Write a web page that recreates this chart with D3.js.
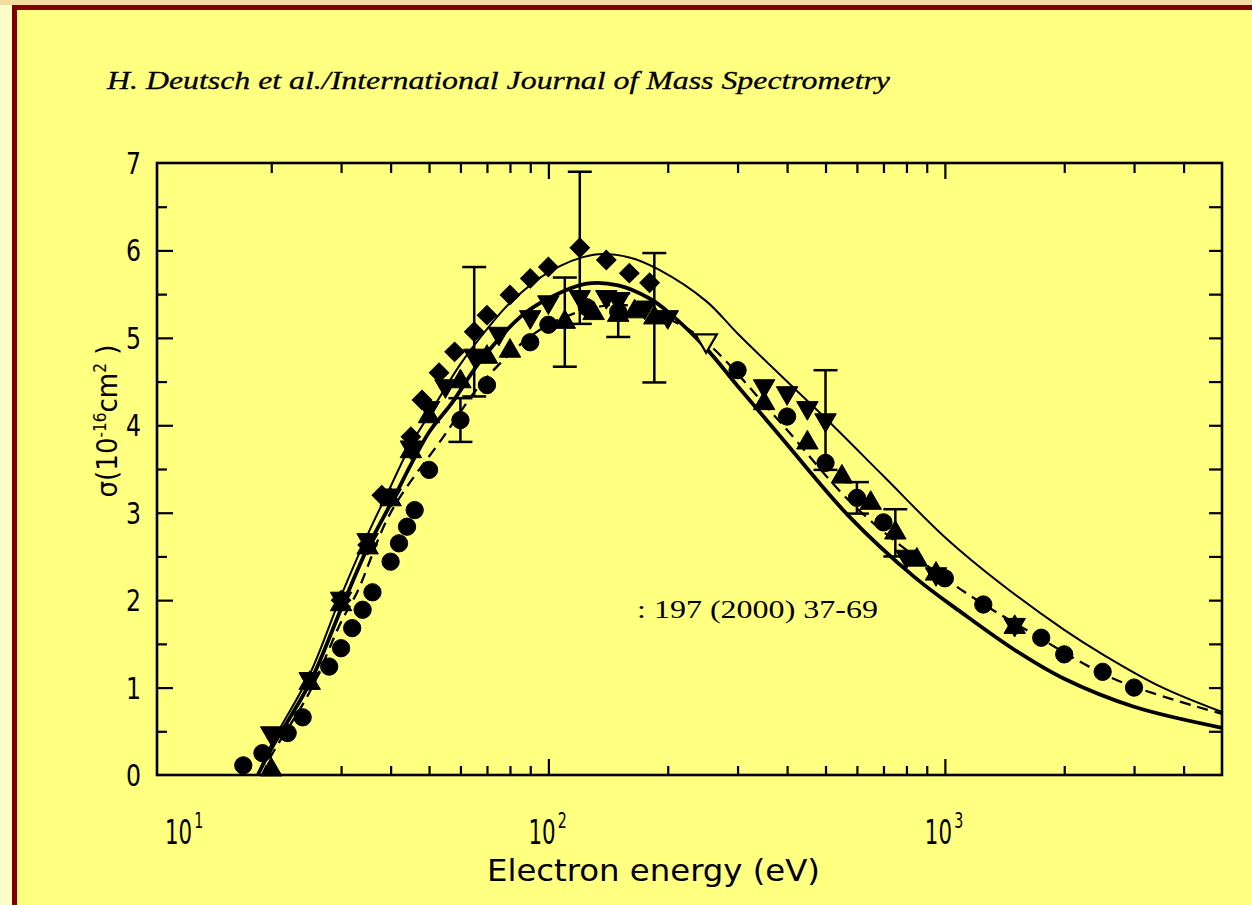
<!DOCTYPE html>
<html>
<head>
<meta charset="utf-8">
<script src="https://cdn.jsdelivr.net/npm/d3@7"></script>
<style>
  html, body { margin: 0; padding: 0; background: #fffdc8; }
  svg { display: block; }
</style>
</head>
<body>
<svg id="chart" width="1252" height="905"></svg>
<script>
// Electron-impact ionization cross section versus electron energy.

// ---- axis ticks ----
const xMajorTicks = [10, 100, 1000];
const xMajorExponents = ["1", "2", "3"];
const xMinorTicks = [20, 30, 40, 50, 60, 70, 80, 90, 200, 300, 400, 500, 600, 700, 800, 900, 2000, 3000, 4000];
const yMajorTicks = [0, 1, 2, 3, 4, 5, 6, 7];
const yMinorTicks = [0.5, 1.5, 2.5, 3.5, 4.5, 5.5, 6.5];

// ---- measured cross sections [energy eV, sigma 1e-16 cm2] ----
const circles = [
  [17, 0.11], [19, 0.25], [22, 0.48], [24, 0.66], [28, 1.24], [30, 1.45], [32, 1.68],
  [34, 1.89], [36, 2.09], [40, 2.44], [42, 2.65], [44, 2.84], [46, 3.03], [50, 3.49],
  [60, 4.06], [70, 4.46], [90, 4.95], [100, 5.15], [125, 5.35], [150, 5.3], [300, 4.63],
  [400, 4.1], [500, 3.57], [600, 3.17], [700, 2.89], [1000, 2.25], [1250, 1.95],
  [1750, 1.57], [2000, 1.38], [2500, 1.18], [3000, 1.0]
];
const diamonds = [
  [30, 2.0], [35, 2.63], [38, 3.2], [45, 3.87], [48, 4.29], [53, 4.6], [58, 4.84],
  [65, 5.07], [70, 5.26], [80, 5.49], [90, 5.68], [100, 5.81], [120, 6.03], [140, 5.89],
  [160, 5.74], [180, 5.63]
];
const upTriangles = [
  [20, 0.06], [25, 1.05], [30, 1.95], [35, 2.6], [40, 3.15], [45, 3.7], [50, 4.1],
  [60, 4.5], [70, 4.78], [80, 4.85], [110, 5.18], [130, 5.28], [150, 5.26], [165, 5.3],
  [185, 5.23], [350, 4.25], [450, 3.8], [550, 3.41], [650, 3.11], [750, 2.77], [850, 2.46],
  [950, 2.3], [1500, 1.69]
];
const downTriangles = [
  [20, 0.48], [25, 1.1], [30, 2.02], [35, 2.69], [40, 3.2], [45, 3.75], [50, 4.2],
  [55, 4.45], [65, 4.8], [75, 5.05], [90, 5.24], [100, 5.41], [120, 5.47], [140, 5.47],
  [150, 5.43], [175, 5.35], [200, 5.24], [350, 4.45], [400, 4.37], [450, 4.2], [500, 4.06],
  [800, 2.5], [950, 2.3], [1500, 1.72]
];
const openDownTriangles = [[250, 4.97]];
// [energy, sigma, half-width of the uncertainty]
const errorBars = [
  [60, 4.06, 0.25], [65, 5.07, 0.74], [110, 5.18, 0.51], [120, 6.03, 0.87],
  [150, 5.26, 0.25], [185, 5.23, 0.74], [500, 4.06, 0.57], [600, 3.17, 0.18], [750, 2.77, 0.27]
];

// ---- calculated cross sections ----
const thinCurve = [
  [18.5, 0], [20, 0.35], [25, 1.15], [30, 2.05], [35, 2.75], [40, 3.3], [45, 3.78], [50, 4.12],
  [60, 4.7], [70, 5.1], [80, 5.4], [100, 5.75], [130, 5.95], [160, 5.92], [190, 5.78],
  [250, 5.42], [300, 5.05], [400, 4.5], [500, 4.08], [700, 3.42], [1000, 2.72], [1400, 2.17],
  [2000, 1.66], [2500, 1.38], [3500, 1.01], [5000, 0.72]
];
const thickCurve = [
  [18.5, 0], [20, 0.3], [25, 1.05], [30, 1.9], [35, 2.6], [40, 3.1], [50, 3.92], [57, 4.25],
  [67, 4.72], [85, 5.24], [100, 5.45], [125, 5.62], [150, 5.6], [180, 5.45], [200, 5.3],
  [250, 4.88], [300, 4.45], [390, 3.84], [570, 2.97], [840, 2.26], [1100, 1.86], [1500, 1.43],
  [2000, 1.1], [3000, 0.78], [5000, 0.54]
];
const dashedCurve = [
  [19, 0], [20, 0.22], [25, 0.95], [30, 1.75], [33, 2.1], [40, 3.0], [54, 3.85], [70, 4.55],
  [100, 5.15], [150, 5.38], [200, 5.22], [250, 4.95], [380, 4.06], [600, 3.05], [1036, 2.2],
  [1660, 1.62], [2700, 1.09], [5000, 0.7]
];

const headerText = "H. Deutsch et al./International Journal of Mass Spectrometry";
const citeText = ": 197 (2000) 37-69";
const xTitle = "Electron energy (eV)";

// ---- layout ----
const svg = d3.select("#chart");
const W = 1252, H = 905;
const sans = "'DejaVu Sans Condensed', 'DejaVu Sans', sans-serif";
const serif = "'Liberation Serif', 'DejaVu Serif', serif";

const x = d3.scaleLog().domain([10.3, 5000]).range([157, 1222]);
const y = d3.scaleLinear().domain([0, 7]).range([775, 163]);

// page background with a dark red rule along the top and left
svg.append("rect").attr("x", 0).attr("y", 0).attr("width", W).attr("height", H).attr("fill", "#fffdc8");
svg.append("rect").attr("x", 0).attr("y", 0).attr("width", W).attr("height", 5).attr("fill", "#f2dca0");
svg.append("rect").attr("x", 12).attr("y", 5).attr("width", W).attr("height", H).attr("fill", "#800000");
svg.append("rect").attr("x", 17).attr("y", 10).attr("width", W).attr("height", H).attr("fill", "#ffff80");

// header line
svg.append("text")
  .attr("x", 107).attr("y", 89)
  .attr("font-family", serif).attr("font-style", "italic")
  .attr("font-size", 26)
  .attr("textLength", 783).attr("lengthAdjust", "spacingAndGlyphs")
  .attr("fill", "#000").attr("stroke", "#000").attr("stroke-width", 0.3)
  .text(headerText);

const [x0, x1] = x.range();
const [y0, y1] = y.range();

// axes: ticks pointing inward, domain lines replaced by a frame
function tickAxis(axis, tf) {
  const g = svg.append("g").attr("transform", tf).call(axis);
  g.select(".domain").remove();
  g.selectAll("line").attr("stroke", "#000").attr("stroke-width", 2.2);
  g.selectAll("text").remove();
  return g;
}
const xMajorInside = xMajorTicks.filter(v => v >= x.domain()[0]);
tickAxis(d3.axisBottom(x).tickValues(xMinorTicks).tickSize(-9), `translate(0,${y0})`);
tickAxis(d3.axisBottom(x).tickValues(xMajorInside).tickSize(-16), `translate(0,${y0})`);
tickAxis(d3.axisTop(x).tickValues(xMinorTicks).tickSize(-10), `translate(0,${y1})`);
tickAxis(d3.axisTop(x).tickValues(xMajorInside).tickSize(-16), `translate(0,${y1})`);
tickAxis(d3.axisLeft(y).tickValues(yMajorTicks.slice(1, -1)).tickSize(-16), `translate(${x0},0)`);
tickAxis(d3.axisLeft(y).tickValues(yMinorTicks).tickSize(-10), `translate(${x0},0)`);
tickAxis(d3.axisRight(y).tickValues(yMajorTicks.slice(1, -1)).tickSize(-13), `translate(${x1},0)`);
tickAxis(d3.axisRight(y).tickValues(yMinorTicks).tickSize(-13), `translate(${x1},0)`);

svg.append("rect")
  .attr("x", x0).attr("y", y1).attr("width", x1 - x0).attr("height", y0 - y1)
  .attr("fill", "none").attr("stroke", "#000").attr("stroke-width", 2.6);

// y tick labels
svg.append("g").selectAll("text").data(yMajorTicks).join("text")
  .attr("x", x0 - 16).attr("y", d => y(d) + 11)
  .attr("text-anchor", "end")
  .attr("font-family", sans).attr("font-size", 31)
  .attr("textLength", 15).attr("lengthAdjust", "spacingAndGlyphs")
  .attr("fill", "#000")
  .text(d => d);

// x tick labels: 10 with a superscript exponent, set in a narrowed face
const labelX = (d, i) => i === 0 ? Math.max(x(d), x0) + 8 : x(d) - 20;
const xl = svg.append("g").selectAll("text").data(xMajorTicks).join("text")
  .attr("transform", (d, i) => `translate(${labelX(d, i)},844) scale(0.72,1)`)
  .attr("font-family", sans).attr("font-size", 33)
  .attr("fill", "#000");
xl.append("tspan").text("10");
xl.append("tspan").attr("dx", 3).attr("dy", -16).attr("font-size", 22)
  .text((d, i) => xMajorExponents[i]);

// axis titles
svg.append("text")
  .attr("x", 487).attr("y", 881)
  .attr("font-family", sans).attr("font-size", 30)
  .attr("textLength", 333).attr("lengthAdjust", "spacingAndGlyphs")
  .attr("fill", "#000")
  .text(xTitle);

const yt = svg.append("text")
  .attr("transform", "translate(117,421) rotate(-90)")
  .attr("text-anchor", "middle")
  .attr("font-family", sans).attr("font-size", 29)
  .attr("fill", "#000");
yt.append("tspan").text("σ(10");
yt.append("tspan").attr("dy", -11).attr("font-size", 17).text("-16");
yt.append("tspan").attr("dy", 11).text("cm");
yt.append("tspan").attr("dy", -11).attr("font-size", 17).text("2");
yt.append("tspan").attr("dy", 11).text(" )");

// citation text inside the plot
svg.append("text")
  .attr("x", 637).attr("y", 618)
  .attr("font-family", serif).attr("font-size", 25)
  .attr("textLength", 241).attr("lengthAdjust", "spacingAndGlyphs")
  .attr("fill", "#000")
  .text(citeText);

// calculated curves
const line = d3.line().x(d => x(d[0])).y(d => y(d[1])).curve(d3.curveCatmullRom.alpha(0.5));
const plot = svg.append("g");
plot.append("path").datum(thinCurve).attr("d", line)
  .attr("fill", "none").attr("stroke", "#000").attr("stroke-width", 2);
plot.append("path").datum(thickCurve).attr("d", line)
  .attr("fill", "none").attr("stroke", "#000").attr("stroke-width", 3.8);
plot.append("path").datum(dashedCurve).attr("d", line)
  .attr("fill", "none").attr("stroke", "#000").attr("stroke-width", 2.3)
  .attr("stroke-dasharray", "11,7");

// error bars
const eb = plot.append("g").attr("stroke", "#000").attr("stroke-width", 2.5);
eb.selectAll("line.v").data(errorBars).join("line").attr("class", "v")
  .attr("x1", d => x(d[0])).attr("x2", d => x(d[0]))
  .attr("y1", d => y(d[1] + d[2])).attr("y2", d => y(d[1] - d[2]));
eb.selectAll("line.t").data(errorBars).join("line").attr("class", "t")
  .attr("x1", d => x(d[0]) - 12).attr("x2", d => x(d[0]) + 12)
  .attr("y1", d => y(d[1] + d[2])).attr("y2", d => y(d[1] + d[2]));
eb.selectAll("line.b").data(errorBars).join("line").attr("class", "b")
  .attr("x1", d => x(d[0]) - 12).attr("x2", d => x(d[0]) + 12)
  .attr("y1", d => y(d[1] - d[2])).attr("y2", d => y(d[1] - d[2]));

// markers
function markers(data, type, size, rotate, filled) {
  const sym = d3.symbol().type(type).size(size);
  plot.append("g").selectAll("path").data(data).join("path")
    .attr("d", sym)
    .attr("transform", d => `translate(${x(d[0])},${y(d[1])}) rotate(${rotate})`)
    .attr("fill", filled ? "#000" : "#ffff80")
    .attr("stroke", "#000").attr("stroke-width", filled ? 1 : 2.2);
}
markers(circles, d3.symbolCircle, 235, 0, true);
markers(diamonds, d3.symbolSquare, 190, 45, true);
markers(upTriangles, d3.symbolTriangle, 200, 0, true);
markers(downTriangles, d3.symbolTriangle, 200, 180, true);
markers(openDownTriangles, d3.symbolTriangle, 200, 180, false);
</script>
</body>
</html>
